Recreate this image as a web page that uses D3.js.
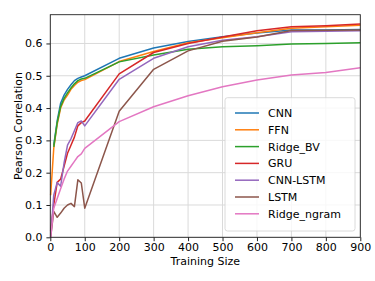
<!DOCTYPE html>
<head>
  <meta charset="utf-8">
  <script src="https://cdn.jsdelivr.net/npm/d3@7"></script>
  <style>
    body { margin: 0; background: white; }
    text { font-family: "DejaVu Sans", sans-serif; fill: #000; }
  </style>
</head>
<body>
<script>
// training sizes (first point only used by series that start before 10)
const sizes = [1, 10, 20, 30, 40, 50, 60, 70, 80, 90, 100, 200, 300, 400, 500, 600, 700, 800, 900];

const cnn      = [null, 0.285, 0.36, 0.415, 0.44, 0.458, 0.472, 0.485, 0.492, 0.496, 0.50, 0.554, 0.586, 0.606, 0.621, 0.632, 0.642, 0.642, 0.643];
const ffn      = [0.13, 0.275, 0.35, 0.40, 0.425, 0.44, 0.458, 0.47, 0.48, 0.485, 0.488, 0.544, 0.575, 0.602, 0.618, 0.633, 0.647, 0.652, 0.656];
const ridgeBV  = [null, 0.28, 0.355, 0.405, 0.43, 0.447, 0.462, 0.475, 0.485, 0.49, 0.492, 0.543, 0.564, 0.582, 0.59, 0.593, 0.598, 0.600, 0.602];
const gru      = [0.02, 0.10, 0.17, 0.18, 0.22, 0.26, 0.285, 0.31, 0.345, 0.355, 0.36, 0.506, 0.572, 0.60, 0.62, 0.639, 0.652, 0.655, 0.66];
const cnnLstm  = [0.0, 0.13, 0.17, 0.158, 0.23, 0.285, 0.305, 0.33, 0.355, 0.36, 0.345, 0.489, 0.554, 0.59, 0.61, 0.621, 0.636, 0.638, 0.639];
const lstm     = [0.0, 0.08, 0.062, 0.075, 0.09, 0.10, 0.105, 0.095, 0.178, 0.168, 0.09, 0.39, 0.52, 0.577, 0.607, 0.62, 0.64, 0.641, 0.642];
const ridgeNg  = [0.0, 0.09, 0.12, 0.15, 0.18, 0.205, 0.22, 0.235, 0.25, 0.258, 0.275, 0.358, 0.404, 0.438, 0.466, 0.487, 0.502, 0.51, 0.525];

const names  = ["CNN", "FFN", "Ridge_BV", "GRU", "CNN-LSTM", "LSTM", "Ridge_ngram"];
const values = [cnn, ffn, ridgeBV, gru, cnnLstm, lstm, ridgeNg];
const colors = ["#1f77b4", "#ff7f0e", "#2ca02c", "#d62728", "#9467bd", "#8c564b", "#e377c2"];

const xTicks = [0, 100, 200, 300, 400, 500, 600, 700, 800, 900];
const yTicks = [0.0, 0.1, 0.2, 0.3, 0.4, 0.5, 0.6];

const W = 375, H = 281;
const m = { left: 50.3, right: 14.7, top: 14.7, bottom: 43.7 };
const fs = 11;

const svg = d3.select("body").append("svg").attr("width", W).attr("height", H);

const x = d3.scaleLinear().domain([0, 900]).range([m.left, W - m.right]);
const y = d3.scaleLinear().domain([0, 0.689]).range([H - m.bottom, m.top]);

// grid
svg.append("g").selectAll("line").data(xTicks).join("line")
  .attr("x1", d => x(d)).attr("x2", d => x(d))
  .attr("y1", y(0)).attr("y2", y(0.689))
  .attr("stroke", "#dadada").attr("stroke-width", 1);
svg.append("g").selectAll("line").data(yTicks).join("line")
  .attr("y1", d => y(d)).attr("y2", d => y(d))
  .attr("x1", x(0)).attr("x2", x(900))
  .attr("stroke", "#dadada").attr("stroke-width", 1);

// lines
const line = d3.line()
  .defined(d => d[1] != null)
  .x(d => x(d[0])).y(d => y(d[1]));

values.forEach((v, i) => {
  svg.append("path")
    .datum(sizes.map((s, j) => [s, v[j]]))
    .attr("d", line)
    .attr("fill", "none")
    .attr("stroke", colors[i])
    .attr("stroke-width", 1.5)
    .attr("stroke-linejoin", "round");
});

// frame
svg.append("rect")
  .attr("x", x(0)).attr("y", y(0.689))
  .attr("width", x(900) - x(0)).attr("height", y(0) - y(0.689))
  .attr("fill", "none").attr("stroke", "#222").attr("stroke-width", 0.9);

// axes
const xAxis = svg.append("g").attr("transform", `translate(0,${y(0)})`)
  .call(d3.axisBottom(x).tickValues(xTicks).tickSize(3.9).tickPadding(2.4));
const yAxis = svg.append("g").attr("transform", `translate(${x(0)},0)`)
  .call(d3.axisLeft(y).tickValues(yTicks).tickFormat(d3.format(".1f")).tickSize(3.9).tickPadding(3.9));
[xAxis, yAxis].forEach(g => {
  g.select(".domain").remove();
  g.selectAll("text").attr("font-size", fs).attr("font-family", "DejaVu Sans, sans-serif").attr("fill", "#000");
  g.selectAll("line").attr("stroke", "#222");
});

svg.append("text").attr("x", x(450)).attr("y", 265)
  .attr("text-anchor", "middle").attr("font-size", fs).text("Training Size");
svg.append("text").attr("transform", `translate(21.5,${(y(0) + y(0.689)) / 2}) rotate(-90)`)
  .attr("text-anchor", "middle").attr("font-size", fs).text("Pearson Correlation");

// legend
const lg = svg.append("g");
lg.append("rect").attr("x", 225).attr("y", 97.7).attr("width", 130).attr("height", 133.3)
  .attr("rx", 2.5).attr("fill", "white").attr("fill-opacity", 0.8)
  .attr("stroke", "#d0d0d0").attr("stroke-width", 0.8);
names.forEach((n, i) => {
  const yy = 113 + i * 16.8;
  lg.append("line").attr("x1", 235).attr("x2", 259).attr("y1", yy).attr("y2", yy)
    .attr("stroke", colors[i]).attr("stroke-width", 1.5);
  lg.append("text").attr("x", 268).attr("y", yy + 4).attr("font-size", fs).text(n);
});
</script>
</body>
